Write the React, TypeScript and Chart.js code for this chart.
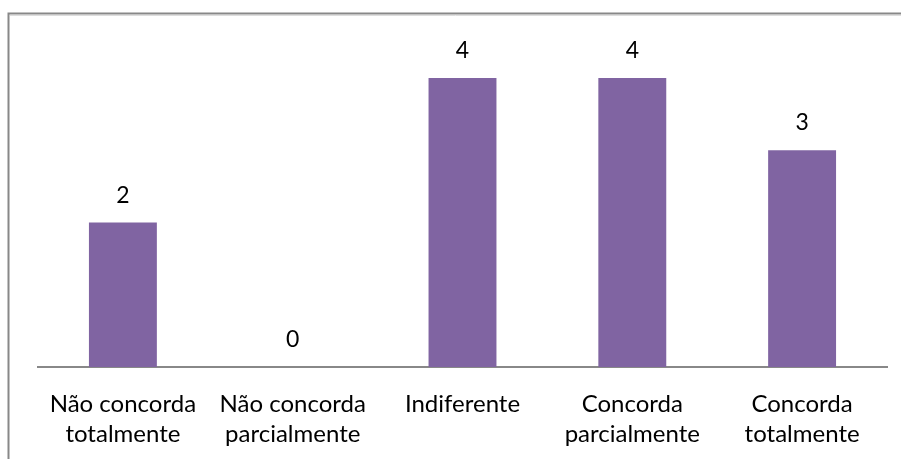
import React, { useEffect, useRef } from "react";
import { Chart, registerables } from "chart.js";

Chart.register(...registerables);

const categories: string[][] = [
  ["Não concorda", "totalmente"],
  ["Não concorda", "parcialmente"],
  ["Indiferente"],
  ["Concorda", "parcialmente"],
  ["Concorda", "totalmente"],
];
const values: number[] = [2, 0, 4, 4, 3];

const FONT = "Lato, 'Open Sans', sans-serif";

const framePlugin = {
  id: "frame",
  beforeDraw(chart: any) {
    const ctx = chart.ctx;
    ctx.save();
    ctx.fillStyle = "#ffffff";
    ctx.fillRect(0, 0, chart.width, chart.height);
    ctx.strokeStyle = "#888888";
    ctx.lineWidth = 2;
    ctx.beginPath();
    ctx.moveTo(8.5, chart.height);
    ctx.lineTo(8.5, 13.5);
    ctx.lineTo(chart.width, 13.5);
    ctx.stroke();
    ctx.strokeStyle = "#dddddd";
    ctx.lineWidth = 1;
    ctx.beginPath();
    ctx.moveTo(10, 15.5);
    ctx.lineTo(chart.width, 15.5);
    ctx.stroke();
    ctx.restore();
  },
};

const labelPlugin = {
  id: "valueLabels",
  afterDatasetsDraw(chart: any) {
    const ctx = chart.ctx;
    const meta = chart.getDatasetMeta(0);
    ctx.save();
    ctx.font = `23px ${FONT}`;
    ctx.fillStyle = "#000000";
    ctx.textAlign = "center";
    ctx.textBaseline = "alphabetic";
    meta.data.forEach((el: any, i: number) => {
      ctx.fillText(String(values[i]), el.x, el.y - 20);
    });
    ctx.restore();
  },
};

export default function App() {
  const ref = useRef<HTMLCanvasElement | null>(null);
  useEffect(() => {
    document.body.style.margin = "0";
    const chart = new Chart(ref.current as HTMLCanvasElement, {
      type: "bar",
      data: {
        labels: categories,
        datasets: [
          {
            data: values,
            backgroundColor: "#8064A2",
            borderWidth: 0,
            categoryPercentage: 1,
            barPercentage: 0.4,
          },
        ],
      },
      options: {
        animation: false,
        responsive: false,
        events: [],
        layout: { padding: { left: 38, right: 14, top: 42, bottom: 0 } },
        plugins: { legend: { display: false }, tooltip: { enabled: false } },
        scales: {
          y: { display: false, min: 0, max: 4.5 },
          x: {
            afterFit: (scale: any) => {
              scale.height = 92;
            },
            grid: { display: false, drawTicks: false },
            border: { display: true, color: "#888888", width: 2 },
            ticks: {
              color: "#000000",
              padding: 22,
              maxRotation: 0,
              autoSkip: false,
              font: { family: FONT, size: 24, lineHeight: 1.25 },
            },
          },
        },
      },
      plugins: [framePlugin, labelPlugin],
    });
    return () => chart.destroy();
  }, []);
  return <canvas ref={ref} width={901} height={459} style={{ display: "block" }} />;
}
